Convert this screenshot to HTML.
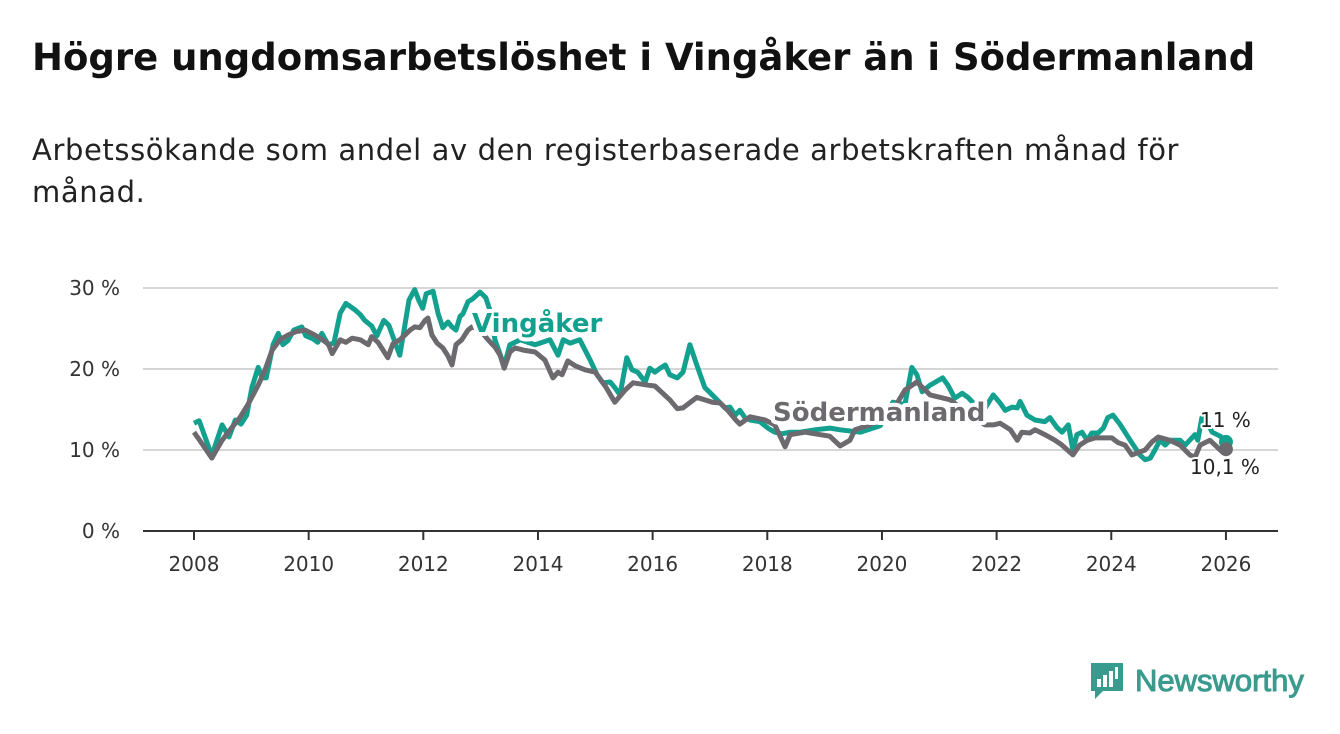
<!DOCTYPE html>
<html><head><meta charset="utf-8"><style>
body{margin:0;background:#fff;width:1340px;height:734px;overflow:hidden;font-family:"DejaVu Sans",sans-serif}
h1{position:absolute;left:32px;top:36px;margin:0;font-size:37px;font-weight:bold;color:#111;letter-spacing:0px;white-space:nowrap}
p{position:absolute;left:32px;top:129px;margin:0;font-size:29px;line-height:42px;color:#222;width:1290px;letter-spacing:0.6px}
</style></head><body>
<h1>Högre ungdomsarbetslöshet i Vingåker än i Södermanland</h1>
<p>Arbetssökande som andel av den registerbaserade arbetskraften månad för<br>månad.</p>
<svg id="chart" width="1340" height="734" style="position:absolute;left:0;top:0"></svg>
<div style="position:absolute;left:1089px;top:661px;display:flex;align-items:center">
<svg width="36" height="40" viewBox="0 0 36 40"><path d="M2 2h32v28H14l-8 8v-8H2z" fill="#3a9a8e"/><rect x="8" y="18" width="4" height="8" fill="#fff"/><rect x="14" y="14" width="4" height="12" fill="#fff"/><rect x="20" y="10" width="4" height="16" fill="#fff"/><rect x="26" y="6" width="3" height="12" fill="#fff"/></svg>
<span style="font-family:'Liberation Sans',sans-serif;font-size:31px;color:#3a9a8e;margin-left:10px;-webkit-text-stroke:1px #3a9a8e">Newsworthy</span></div>
<script>
const yTicks=[0,10,20,30];
const xTicks=[2008,2010,2012,2014,2016,2018,2020,2022,2024,2026];
const vingT=[2008.0,2008.09,2008.31,2008.49,2008.61,2008.72,2008.82,2008.92,2009.01,2009.12,2009.19,2009.26,2009.38,2009.47,2009.55,2009.64,2009.74,2009.88,2009.95,2010.08,2010.16,2010.23,2010.34,2010.44,2010.55,2010.65,2010.81,2010.9,2010.98,2011.1,2011.19,2011.31,2011.4,2011.52,2011.59,2011.66,2011.75,2011.85,2011.92,2011.99,2012.05,2012.17,2012.26,2012.34,2012.43,2012.5,2012.57,2012.64,2012.69,2012.78,2012.85,2012.99,2013.09,2013.16,2013.25,2013.41,2013.51,2013.69,2013.95,2014.21,2014.35,2014.44,2014.56,2014.73,2014.91,2015.03,2015.13,2015.26,2015.34,2015.43,2015.55,2015.64,2015.74,2015.87,2015.95,2016.04,2016.13,2016.22,2016.3,2016.43,2016.53,2016.65,2016.77,2016.91,2017.04,2017.18,2017.26,2017.35,2017.44,2017.52,2017.61,2017.7,2017.87,2018.01,2018.13,2018.26,2018.4,2018.57,2018.83,2019.09,2019.27,2019.62,2019.97,2020.19,2020.4,2020.52,2020.61,2020.7,2020.84,2021.06,2021.15,2021.27,2021.4,2021.5,2021.62,2021.8,2021.94,2022.06,2022.15,2022.27,2022.36,2022.41,2022.53,2022.67,2022.84,2022.93,2023.05,2023.14,2023.25,2023.33,2023.4,2023.49,2023.58,2023.66,2023.77,2023.86,2023.94,2024.03,2024.15,2024.33,2024.5,2024.59,2024.68,2024.76,2024.85,2024.94,2025.02,2025.2,2025.29,2025.46,2025.51,2025.58,2025.63,2025.76,2025.9,2026.0];
const vingV=[13.3,13.6,9.3,13.1,11.6,13.7,13.2,14.3,17.7,20.2,18.9,18.9,23.0,24.4,23.0,23.5,24.8,25.2,24.1,23.7,23.3,24.4,23.0,23.2,26.9,28.1,27.3,26.7,26.0,25.3,24.1,26.0,25.4,23.0,21.7,24.6,28.5,29.8,28.5,27.5,29.3,29.6,26.8,25.1,25.8,25.2,24.8,26.5,26.8,28.3,28.6,29.5,28.8,27.3,23.6,20.4,23.0,23.6,23.0,23.6,21.7,23.6,23.2,23.6,21.1,19.3,18.3,18.4,17.7,16.8,21.4,19.9,19.6,18.4,20.1,19.6,20.1,20.5,19.3,18.9,19.6,23.0,20.5,17.7,16.8,15.8,15.2,15.3,14.3,14.9,14.0,13.7,13.5,12.7,12.2,12.0,12.2,12.2,12.5,12.7,12.5,12.2,13.0,15.9,15.6,20.2,19.3,17.2,18.0,18.9,18.0,16.4,17.0,16.5,15.6,15.2,16.8,15.8,14.9,15.3,15.2,16.0,14.3,13.7,13.5,14.0,12.8,12.2,13.1,10.0,11.9,12.2,11.2,12.1,12.1,12.7,14.0,14.3,13.2,11.2,9.4,8.8,9.0,10.0,11.2,10.6,11.2,11.2,10.6,11.9,11.2,14.0,14.0,12.2,11.7,11.0];
const sodT=[2008.0,2008.1,2008.31,2008.49,2008.63,2008.8,2008.94,2009.12,2009.24,2009.36,2009.5,2009.64,2009.78,2009.94,2010.08,2010.2,2010.34,2010.41,2010.55,2010.65,2010.76,2010.9,2011.04,2011.1,2011.21,2011.3,2011.38,2011.47,2011.59,2011.68,2011.77,2011.85,2011.94,2012.03,2012.08,2012.15,2012.24,2012.34,2012.43,2012.5,2012.57,2012.67,2012.78,2012.85,2012.99,2013.13,2013.25,2013.34,2013.41,2013.51,2013.6,2013.77,2013.95,2014.12,2014.26,2014.35,2014.42,2014.52,2014.65,2014.82,2015.0,2015.19,2015.34,2015.52,2015.66,2015.92,2016.04,2016.3,2016.43,2016.53,2016.77,2017.04,2017.18,2017.31,2017.45,2017.52,2017.7,2017.96,2018.13,2018.31,2018.4,2018.66,2018.83,2019.09,2019.27,2019.44,2019.53,2019.79,2020.14,2020.4,2020.61,2020.84,2021.19,2021.54,2021.8,2021.94,2022.06,2022.24,2022.36,2022.44,2022.58,2022.67,2022.84,2023.02,2023.14,2023.33,2023.45,2023.58,2023.72,2024.01,2024.12,2024.24,2024.36,2024.59,2024.71,2024.82,2025.02,2025.2,2025.37,2025.46,2025.55,2025.72,2025.81,2025.93,2026.0];
const sodV=[12.2,11.2,9.0,11.2,12.5,14.0,15.6,18.0,19.9,22.3,23.6,24.2,24.6,24.8,24.3,23.8,23.1,21.9,23.6,23.3,23.8,23.6,23.0,24.0,23.3,22.3,21.4,23.1,23.6,24.2,24.8,25.2,25.1,26.0,26.3,24.2,23.2,22.6,21.6,20.5,23.0,23.6,24.8,25.2,24.8,23.6,22.7,21.7,20.1,22.1,22.6,22.3,22.1,21.1,18.9,19.6,19.3,21.0,20.4,19.9,19.6,17.7,15.9,17.4,18.3,18.0,17.9,16.2,15.1,15.2,16.5,15.9,15.8,14.9,13.7,13.2,14.1,13.7,13.1,10.4,11.9,12.2,12.0,11.7,10.5,11.2,12.5,13.1,14.3,17.4,18.4,16.8,16.2,14.3,13.1,13.1,13.3,12.5,11.2,12.2,12.1,12.5,11.9,11.2,10.6,9.4,10.6,11.2,11.5,11.5,10.9,10.6,9.4,10.0,11.0,11.6,11.2,10.6,9.4,9.1,10.6,11.2,10.6,9.8,10.1];
const NS="http://www.w3.org/2000/svg";
const svg=document.getElementById('chart');
const X=t=>194+(t-2008)*57.33;
const Y=v=>531-v*8.1;
function mk(tag,attrs,parent){const e=document.createElementNS(NS,tag);for(const k in attrs)e.setAttribute(k,attrs[k]);(parent||svg).appendChild(e);return e;}
yTicks.forEach(v=>{
  const l=mk('line',{x1:143,x2:1278,y1:Y(v),y2:Y(v),stroke:v===0?'#333':'#d6d6d6','stroke-width':2});
  
  
  const t=mk('text',{x:120,y:Y(v)+7,'text-anchor':'end','font-size':20,fill:'#333','font-family':'DejaVu Sans, sans-serif'});
  t.textContent=v+' %';
  
  
});
xTicks.forEach(y=>{
  const l=mk('line',{x1:X(y),x2:X(y),y1:531,y2:540,stroke:'#333','stroke-width':2});
  
  
  const t=mk('text',{x:X(y),y:571,'text-anchor':'middle','font-size':20,fill:'#333','font-family':'DejaVu Sans, sans-serif'});
  t.textContent=y;
  
  
});
function line(T,V,color,name){
  const d=T.map((t,i)=>(i?'L':'M')+X(t).toFixed(1)+','+Y(V[i]).toFixed(1)).join('');
  const p=mk('path',{d:d,fill:'none',stroke:color,'stroke-width':5,'stroke-linejoin':'round'});
  
  
  const c=mk('circle',{cx:X(T[T.length-1]),cy:Y(V[V.length-1]),r:7,fill:color});
  
  
}
line(vingT,vingV,'#13a08f','vingaker-line');
line(sodT,sodV,'#6d6a6f','sodermanland-line');
function label(x,y,txt,color,size,bold,name){
  const t=mk('text',{x:x,y:y,'font-size':size,'font-weight':bold?'bold':'normal',fill:color,stroke:'#fff','stroke-width':bold?8:4,'paint-order':'stroke','stroke-linejoin':'round','font-family':'DejaVu Sans, sans-serif'});
  t.textContent=txt;
  
  
}
label(472,332,'Vingåker','#13a08f',26,true,'vingaker-label');
label(773,421,'Södermanland','#6d6a6f',26,true,'sodermanland-label');
label(1200,427,'11 %','#222',20,false,'vingaker-end-value');
label(1190,474,'10,1 %','#222',20,false,'sodermanland-end-value');
</script>
</body></html>
